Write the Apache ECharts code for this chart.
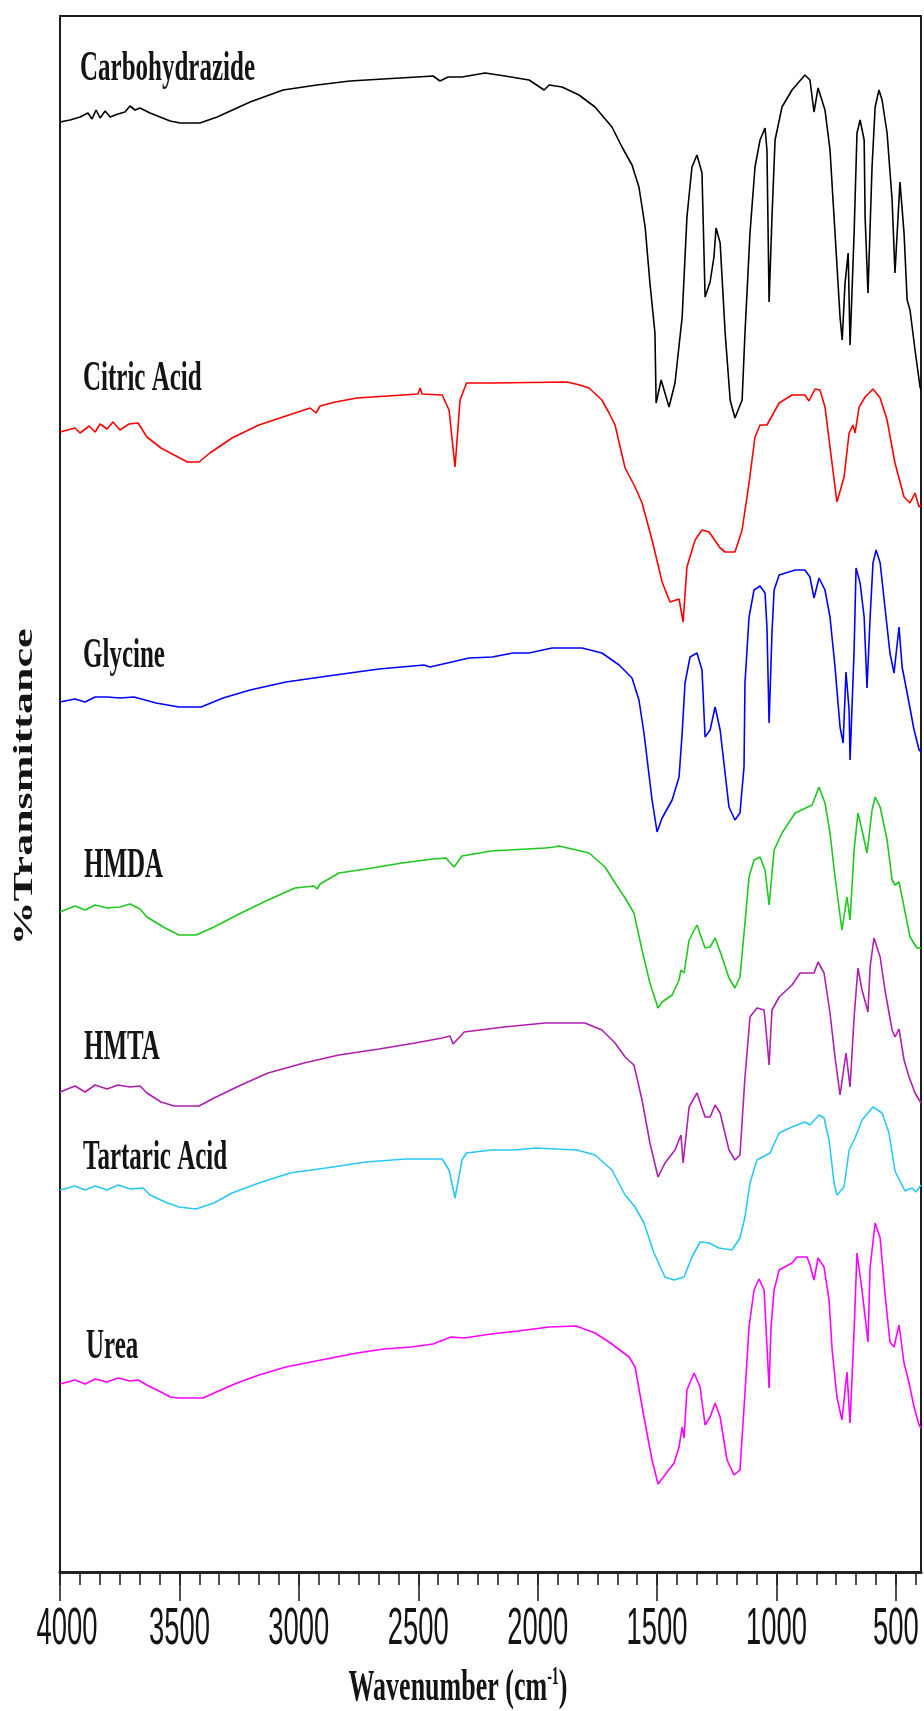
<!DOCTYPE html>
<html>
<head>
<meta charset="utf-8">
<script src="https://cdn.jsdelivr.net/npm/echarts@6/dist/echarts.min.js"></script>
<style>
  html, body { margin: 0; padding: 0; background: #ffffff; }
  #chart { width: 924px; height: 1711px; }
</style>
</head>
<body>
<div id="chart"></div>
<script>
// FTIR spectra, stacked with vertical offsets. Each point: [wavenumber (cm-1), offset %T]
const sampleNames = ['Carbohydrazide', 'Citric Acid', 'Glycine', 'HMDA', 'HMTA', 'Tartaric Acid', 'Urea'];
const sampleColors = ['#000000', '#ff0000', '#0000ff', '#1ec81e', '#b01eb0', '#28c8f5', '#ff00ff'];

const carbohydrazide = [
  [4000,145.0],[3958,145.2],[3916,145.5],[3883,145.9],[3866,145.3],[3849,146.2],[3832,145.4],[3811,146.1],
  [3790,145.5],[3757,145.8],[3728,146.0],[3707,146.6],[3686,146.2],[3665,146.4],[3623,145.9],[3581,145.5],
  [3539,145.1],[3497,144.9],[3414,144.9],[3342,145.5],[3204,147.0],[3066,148.2],[2924,148.7],[2786,149.1],
  [2647,149.3],[2505,149.5],[2438,149.6],[2409,149.1],[2375,149.5],[2317,149.5],[2220,149.9],[2137,149.6],
  [2036,149.2],[1973,148.2],[1952,148.7],[1898,148.5],[1827,147.7],[1760,146.5],[1689,144.5],[1647,142.5],
  [1605,140.7],[1576,138.5],[1550,134.5],[1530,128.9],[1509,123.9],[1504,116.9],[1483,119.2],[1450,116.5],
  [1425,118.9],[1395,125.5],[1375,135.5],[1354,140.5],[1333,141.7],[1312,139.9],[1299,127.5],[1278,129.0],
  [1262,131.5],[1253,134.4],[1236,132.9],[1215,123.9],[1194,117.2],[1174,115.4],[1144,117.2],[1132,123.9],
  [1111,133.9],[1090,140.5],[1069,143.2],[1048,144.4],[1040,142.2],[1031,127.0],[1019,135.5],[1006,143.2],
  [977,146.5],[935,148.2],[881,149.7],[860,149.2],[843,146.0],[826,148.4],[797,146.2],[776,142.2],
  [755,133.9],[734,125.5],[725,123.2],[713,128.9],[700,131.9],[692,122.7],[675,133.9],[663,143.9],
  [650,145.2],[633,143.2],[629,135.5],[617,127.9],[600,140.5],[587,146.5],[571,148.2],[558,147.2],
  [537,143.9],[516,137.2],[504,129.9],[483,139.0],[466,133.9],[453,127.2],[441,126.2],[420,122.2],
  [399,118.5],[395,118.2]
];

const citricAcid = [
  [4000,114.0],[3937,114.4],[3916,113.9],[3878,114.6],[3853,114.0],[3832,114.8],[3803,114.3],[3778,115.0],
  [3749,114.2],[3711,114.8],[3673,114.9],[3636,113.5],[3577,112.4],[3522,111.7],[3466,111.0],[3418,111.0],
  [3372,111.9],[3280,113.4],[3167,114.7],[3054,115.6],[2953,116.4],[2928,115.9],[2911,116.6],[2848,117.0],
  [2756,117.4],[2627,117.6],[2501,117.8],[2492,118.4],[2484,117.8],[2400,117.7],[2371,116.2],[2346,110.5],
  [2325,117.2],[2298,118.9],[2195,118.9],[1877,119.0],[1823,118.7],[1785,118.4],[1731,117.2],[1701,115.9],
  [1676,114.7],[1634,110.4],[1592,108.5],[1563,106.9],[1521,103.2],[1479,99.0],[1446,97.0],[1408,97.3],
  [1400,97.5],[1391,95.0],[1375,100.5],[1341,103.2],[1312,104.2],[1282,104.0],[1236,102.4],[1215,102.0],
  [1174,102.0],[1144,104.2],[1115,108.9],[1090,113.5],[1069,114.7],[1040,114.7],[989,116.9],[935,117.7],
  [881,117.7],[864,117.1],[839,118.3],[818,118.2],[797,116.5],[776,112.5],[747,107.0],[717,109.5],
  [696,113.9],[680,114.7],[671,113.9],[654,116.5],[629,117.5],[596,118.3],[566,117.4],[537,115.2],
  [504,110.9],[466,107.5],[441,106.9],[420,107.9],[403,106.5],[395,106.7]
];

const glycine = [
  [4000,87.0],[3937,87.3],[3895,87.0],[3853,87.5],[3803,87.5],[3749,87.4],[3690,87.5],[3644,87.2],
  [3598,86.9],[3502,86.5],[3409,86.5],[3317,87.4],[3204,88.2],[3054,89.0],[2848,89.7],[2664,90.3],
  [2476,90.7],[2451,90.5],[2287,91.4],[2191,91.5],[2103,91.9],[2036,91.9],[1940,92.4],[1814,92.4],
  [1731,91.9],[1659,90.7],[1605,89.4],[1576,87.2],[1555,83.9],[1521,77.2],[1500,74.0],[1479,75.4],
  [1437,77.2],[1408,79.5],[1395,83.9],[1383,88.9],[1362,91.5],[1333,91.9],[1312,90.2],[1299,83.5],
  [1278,84.2],[1257,86.5],[1236,84.2],[1199,76.5],[1174,75.2],[1153,75.9],[1136,80.5],[1132,88.9],
  [1115,95.5],[1094,98.2],[1069,98.6],[1048,97.9],[1040,94.5],[1031,84.9],[1019,93.9],[1010,98.2],
  [989,99.7],[922,100.2],[881,100.2],[860,99.5],[843,97.4],[822,99.4],[797,98.2],[776,95.5],
  [755,90.5],[734,84.5],[721,82.9],[709,90.0],[696,86.2],[692,81.2],[675,92.2],[667,100.4],
  [650,98.9],[633,95.5],[621,88.4],[608,95.5],[596,100.9],[583,102.2],[566,100.9],[546,96.5],
  [525,91.9],[508,89.9],[487,94.5],[474,90.5],[453,87.9],[424,84.2],[403,82.2],[395,82.0]
];

const hmda = [
  [4000,66.0],[3937,66.6],[3895,66.2],[3853,66.7],[3803,66.4],[3749,66.5],[3707,66.8],[3665,66.3],
  [3636,65.5],[3560,64.4],[3502,63.7],[3430,63.7],[3355,64.5],[3242,65.9],[3129,67.2],[3016,68.4],
  [2936,68.6],[2924,68.3],[2911,68.8],[2832,69.9],[2719,70.3],[2568,70.9],[2438,71.3],[2384,71.4],
  [2350,70.5],[2317,71.6],[2195,72.1],[1969,72.4],[1931,72.5],[1910,72.6],[1785,71.9],[1718,70.5],
  [1676,68.9],[1634,67.4],[1597,65.9],[1563,62.2],[1530,58.9],[1496,56.4],[1479,57.0],[1437,57.7],
  [1408,59.2],[1400,60.2],[1387,59.9],[1366,63.2],[1333,64.7],[1299,62.4],[1278,62.5],[1257,63.4],
  [1228,61.5],[1199,59.4],[1174,58.4],[1153,59.5],[1132,64.9],[1115,69.5],[1094,71.2],[1069,71.5],
  [1048,70.2],[1031,66.7],[1010,72.2],[977,73.9],[922,75.9],[851,76.7],[822,78.5],[797,76.9],
  [776,73.9],[755,69.5],[726,64.2],[705,67.5],[692,65.2],[675,72.2],[659,75.9],[642,74.2],
  [621,71.9],[600,76.2],[587,77.5],[566,76.5],[537,73.2],[516,69.2],[504,68.7],[487,69.0],
  [466,66.5],[441,63.5],[412,62.4],[395,62.4]
];

const hmta = [
  [4000,48.0],[3937,48.6],[3895,48.0],[3853,48.7],[3803,48.3],[3757,48.7],[3707,48.5],[3665,48.6],
  [3636,47.9],[3577,47.0],[3522,46.6],[3418,46.6],[3355,47.4],[3242,48.7],[3129,49.9],[2978,50.9],
  [2832,51.7],[2664,52.3],[2513,52.9],[2400,53.4],[2367,53.6],[2354,52.8],[2308,54.0],[2141,54.5],
  [1969,54.9],[1802,54.9],[1731,54.2],[1676,52.9],[1634,51.5],[1597,50.7],[1563,47.2],[1530,42.9],
  [1496,39.5],[1467,40.9],[1425,42.2],[1400,43.7],[1391,40.9],[1366,46.5],[1333,47.9],[1299,45.5],
  [1278,45.5],[1257,46.7],[1236,45.9],[1199,42.2],[1174,41.2],[1153,41.7],[1132,49.5],[1111,55.5],
  [1082,56.4],[1052,56.2],[1040,53.2],[1031,50.7],[1019,56.2],[989,57.5],[935,58.7],[901,59.9],
  [843,59.9],[826,61.0],[801,59.9],[776,55.9],[755,51.5],[734,47.7],[709,51.9],[692,48.5],
  [675,55.5],[659,60.4],[642,58.2],[617,56.0],[608,60.5],[592,63.4],[566,61.5],[546,58.2],
  [516,54.2],[504,53.5],[487,54.3],[466,51.2],[445,49.5],[420,47.9],[395,46.9]
];

const tartaricAcid = [
  [4000,38.2],[3937,38.6],[3895,38.2],[3853,38.6],[3803,38.2],[3757,38.7],[3707,38.3],[3652,38.4],
  [3623,37.7],[3560,37.0],[3502,36.5],[3430,36.3],[3355,36.9],[3280,37.9],[3167,38.9],[3037,39.9],
  [2886,40.4],[2719,41.0],[2551,41.3],[2400,41.3],[2371,40.2],[2346,37.4],[2317,41.2],[2298,41.9],
  [2195,42.2],[2095,42.2],[2007,42.4],[1835,42.2],[1760,41.7],[1689,40.2],[1634,37.7],[1592,36.5],
  [1555,34.9],[1513,31.9],[1467,29.5],[1429,29.2],[1387,29.5],[1354,31.5],[1320,33.0],[1282,32.9],
  [1241,32.4],[1186,32.2],[1153,33.4],[1132,35.5],[1111,38.9],[1082,41.2],[1027,41.9],[989,43.9],
  [935,44.5],[881,45.0],[860,44.7],[822,45.7],[801,45.4],[780,43.2],[759,38.9],[747,37.7],
  [717,38.5],[696,42.2],[671,43.4],[642,45.2],[596,46.5],[558,45.9],[529,43.9],[504,40.1],
  [462,38.1],[433,38.4],[416,38.0],[395,38.7]
];

const urea = [
  [4000,18.8],[3937,19.2],[3895,18.8],[3853,19.3],[3803,19.0],[3757,19.4],[3707,19.1],[3673,19.2],
  [3636,18.7],[3577,18.0],[3539,17.5],[3502,17.4],[3401,17.4],[3355,17.9],[3259,18.9],[3167,19.7],
  [3054,20.5],[2907,21.2],[2756,21.9],[2643,22.3],[2530,22.5],[2438,22.8],[2363,23.5],[2308,23.4],
  [2195,23.8],[2082,24.1],[1952,24.5],[1839,24.6],[1760,23.9],[1701,23.0],[1617,21.5],[1592,20.5],
  [1555,15.5],[1521,11.2],[1496,8.8],[1467,9.7],[1429,10.9],[1408,12.5],[1395,14.5],[1387,13.4],
  [1375,18.2],[1345,19.9],[1320,18.5],[1299,14.7],[1278,15.5],[1257,16.9],[1236,15.5],[1207,11.2],
  [1178,9.7],[1153,10.2],[1132,17.9],[1115,24.5],[1094,28.2],[1073,29.3],[1052,28.2],[1044,24.5],
  [1031,18.4],[1023,24.5],[1010,28.2],[989,30.2],[935,30.9],[914,31.5],[872,31.5],[860,30.7],
  [843,29.2],[826,31.4],[801,30.5],[780,27.2],[767,22.2],[747,17.5],[726,15.2],[705,20.0],
  [692,14.9],[675,24.2],[663,31.9],[642,28.2],[629,25.5],[617,23.0],[608,30.5],[587,34.9],
  [566,33.4],[546,27.9],[525,23.0],[508,22.5],[487,24.7],[466,20.9],[445,18.9],[424,16.5],
  [403,14.7],[395,14.4]
];

const spectraData = [carbohydrazide, citricAcid, glycine, hmda, hmta, tartaricAcid, urea];

// Axis ticks
const majorTicks = [4000, 3500, 3000, 2500, 2000, 1500, 1000, 500];
const minorTicks = [];
for (let k = 0; 4000 - k * 500 / 6 >= 400; k++) minorTicks.push(4000 - k * 500 / 6);

const WN_MIN = 395, WN_MAX = 4000;
const INK = '#141414';

const chart = echarts.init(document.getElementById('chart'), null, { renderer: 'canvas' });

const xCommon = {
  type: 'value', min: WN_MIN, max: WN_MAX, inverse: true, position: 'bottom',
  splitLine: { show: false }, axisLabel: { show: false }
};

chart.setOption({
  animation: false,
  backgroundColor: '#ffffff',
  grid: { left: 60, right: 3, top: 16, bottom: 139, show: true, borderColor: '#1c1c1c', borderWidth: 2 },
  xAxis: [
    Object.assign({}, xCommon, {
      axisLine: { show: true, onZero: false, lineStyle: { color: '#222', width: 3 } },
      axisTick: { show: true, customValues: majorTicks, length: 29, lineStyle: { color: '#222', width: 1.6 } }
    }),
    Object.assign({}, xCommon, {
      axisLine: { show: false },
      axisTick: { show: true, customValues: minorTicks, length: 13, lineStyle: { color: '#222', width: 1.6 } }
    })
  ],
  yAxis: { type: 'value', min: 0, max: 155.6, show: false },
  series: spectraData.map((d, i) => ({
    name: sampleNames[i],
    type: 'line',
    data: d,
    showSymbol: false,
    symbol: 'none',
    smooth: false,
    lineStyle: { color: sampleColors[i], width: 1.6 },
    z: 3
  }))
});

// Text drawn as graphic elements so it can carry the tall, narrow glyph proportions.
const namePos = [[80, 69], [83, 379], [83, 656], [84, 866], [84, 1048], [83, 1158], [86, 1347]];
const graphics = [];

sampleNames.forEach((n, i) => {
  graphics.push({
    type: 'text', x: namePos[i][0], y: namePos[i][1], scaleY: 1.72, z: 10,
    style: { text: n, font: 'bold 25px "Liberation Serif", "Times New Roman", serif', fill: INK,
             textAlign: 'left', textVerticalAlign: 'middle' }
  });
});

majorTicks.forEach((v, i) => {
  const px = chart.convertToPixel({ xAxisIndex: 0 }, v);
  graphics.push({
    type: 'text', x: px + (i === 0 ? 7 : 0), y: 1630, scaleY: 1.89, z: 10,
    style: { text: String(v), font: '27.4px "Liberation Sans", Arial, sans-serif', fill: INK,
             textAlign: 'center', textVerticalAlign: 'middle' }
  });
});

graphics.push({
  type: 'text', x: 458, y: 1688, scaleY: 1.74, z: 10,
  style: {
    text: '{a|Wavenumber (cm}{s|-1}{a|)}',
    textAlign: 'center', textVerticalAlign: 'middle', fill: INK,
    rich: {
      a: { font: 'bold 26px "Liberation Serif", "Times New Roman", serif', fill: INK },
      s: { font: 'bold 14px "Liberation Serif", "Times New Roman", serif', fill: INK, verticalAlign: 'top' }
    }
  }
});

graphics.push({
  type: 'text', x: 25, y: 787, rotation: Math.PI / 2, scaleX: 1.63, z: 10,
  style: { text: '%Transmittance', font: 'bold 27px "Liberation Serif", "Times New Roman", serif', fill: INK,
           textAlign: 'center', textVerticalAlign: 'middle' }
});

chart.setOption({ graphic: { elements: graphics } });
</script>
</body>
</html>
